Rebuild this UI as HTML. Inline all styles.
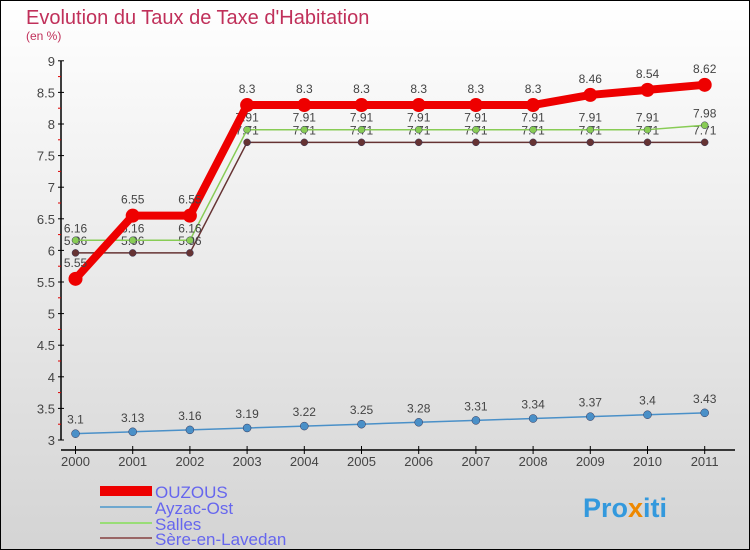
<!DOCTYPE html>
<html><head><meta charset="utf-8"><style>
body{margin:0}
svg{display:block;font-family:"Liberation Sans","DejaVu Sans",sans-serif}
</style></head><body>
<svg width="750" height="550" viewBox="0 0 750 550" xmlns="http://www.w3.org/2000/svg">
<defs><linearGradient id="bg" x1="0" y1="0" x2="0" y2="1"><stop offset="0" stop-color="#ffffff"/><stop offset="1" stop-color="#d4d4d4"/></linearGradient></defs>
<rect x="0.5" y="0.5" width="749" height="549" fill="url(#bg)" stroke="#000"/>
<text x="26" y="24" font-size="20" fill="#c0305a">Evolution du Taux de Taxe d'Habitation</text>
<text x="26" y="40" font-size="12" fill="#c0305a">(en %)</text>
<g id="axes"></g><g id="series"></g>
<g>
<rect x="100" y="486" width="52" height="10" fill="#ee0000"/>
<text x="155" y="498" font-size="17" fill="#6666ee">OUZOUS</text>
<rect x="100" y="506" width="52" height="2" fill="#6fa8cf"/>
<text x="155" y="514" font-size="17" fill="#6666ee">Ayzac-Ost</text>
<rect x="100" y="522" width="52" height="2" fill="#99dd77"/>
<text x="155" y="530" font-size="17" fill="#6666ee">Salles</text>
<rect x="100" y="537" width="52" height="2" fill="#996666"/>
<text x="155" y="545" font-size="17" fill="#6666ee">Sère-en-Lavedan</text>
</g>
<text x="583" y="517" font-size="27" font-weight="bold" fill="#3399dd">Pro<tspan fill="#ee8800">x</tspan>iti</text>
</svg>
<script>
const years=[2000,2001,2002,2003,2004,2005,2006,2007,2008,2009,2010,2011];
const ouzous=[5.55,6.55,6.55,8.3,8.3,8.3,8.3,8.3,8.3,8.46,8.54,8.62];
const ayzac=[3.1,3.13,3.16,3.19,3.22,3.25,3.28,3.31,3.34,3.37,3.4,3.43];
const salles=[6.16,6.16,6.16,7.91,7.91,7.91,7.91,7.91,7.91,7.91,7.91,7.98];
const sere=[5.96,5.96,5.96,7.71,7.71,7.71,7.71,7.71,7.71,7.71,7.71,7.71];
const yTicks=[3,3.5,4,4.5,5,5.5,6,6.5,7,7.5,8,8.5,9];
const NS="http://www.w3.org/2000/svg";
const X=i=>75.5+i*57.2, Y=v=>440-(v-3)*63.2;
function mk(p,t,a){const e=document.createElementNS(NS,t);for(const k in a)e.setAttribute(k,a[k]);p.appendChild(e);return e;}
const ax=document.getElementById('axes');
mk(ax,'line',{x1:61,y1:Y(9),x2:61,y2:Y(3),stroke:'#000','stroke-width':1.5});
mk(ax,'line',{x1:61,y1:450,x2:735,y2:450,stroke:'#000','stroke-width':1.5});
yTicks.forEach(v=>{
 mk(ax,'line',{x1:58,y1:Y(v),x2:64,y2:Y(v),stroke:'#000'});
 const t=mk(ax,'text',{x:55,y:Y(v)+5,'font-size':13,fill:'#444','text-anchor':'end'});t.textContent=v;
 
 
 if(v<9) mk(ax,'line',{x1:58,y1:Y(v+0.25),x2:61,y2:Y(v+0.25),stroke:'#d00'});
});
years.forEach((y,i)=>{
 mk(ax,'line',{x1:X(i),y1:446,x2:X(i),y2:454,stroke:'#000'});
 const t=mk(ax,'text',{x:X(i),y:466,'font-size':13,fill:'#444','text-anchor':'middle'});t.textContent=y;
 
 
});
const sg=document.getElementById('series');
function draw(name,data,color,w,r,labDy){
 const g=mk(sg,'g',{});
 
 
 mk(g,'polyline',{points:data.map((v,i)=>X(i)+','+Y(v)).join(' '),fill:'none',stroke:color,'stroke-width':w,'stroke-linejoin':'round'});
 data.forEach((v,i)=>{
  const c=mk(g,'circle',{cx:X(i),cy:Y(v),r:r,fill:color,stroke:w>3?'none':'#335',"stroke-width":0.5});
  
  
  const t=mk(g,'text',{x:X(i),y:Y(v)+labDy,'font-size':12,fill:'#444','text-anchor':'middle'});t.textContent=v;
 });
}
draw('sere',sere,'#663333',1.5,3.5,-8);
draw('salles',salles,'#88cc55',1.5,3.5,-8);
draw('ayzac',ayzac,'#4a90c8',1.5,4,-10);
draw('ouzous',ouzous,'#ee0000',8,7,-12);
</script>
</body></html>
